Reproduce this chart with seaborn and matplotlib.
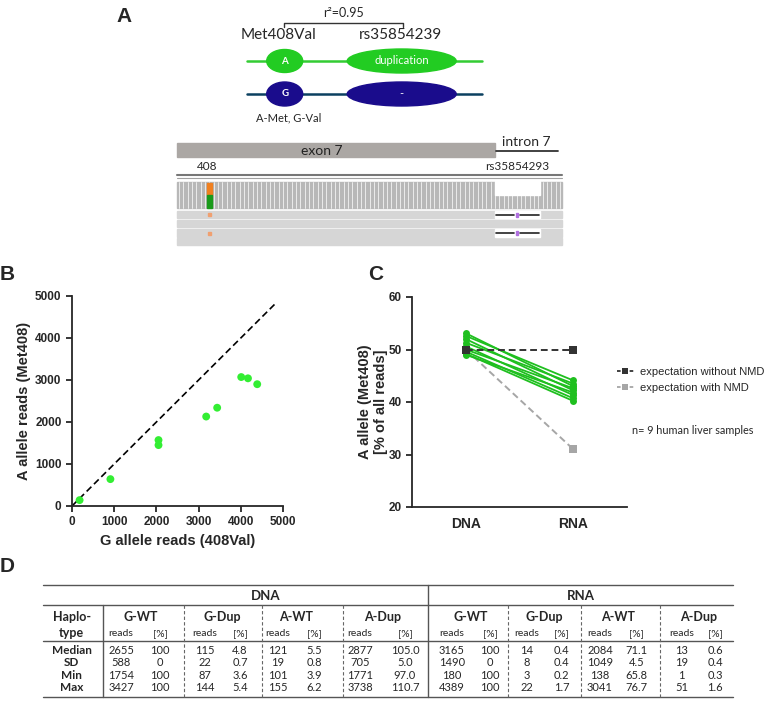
import numpy as np
import pandas as pd
import seaborn as sns
import matplotlib.pyplot as plt
from matplotlib.patches import Ellipse, Rectangle
from matplotlib.lines import Line2D

# --- panel B: reads per allele in the 9 liver samples
g_reads = [180, 910, 2050, 2050, 3180, 3440, 4010, 4170, 4389]
a_reads = [140, 640, 1570, 1450, 2130, 2340, 3070, 3040, 2900]
b_ticks = [0, 1000, 2000, 3000, 4000, 5000]
diag_end = 4840

# --- panel C: A allele share, DNA vs RNA
samples = list(range(1, 10))
conditions = ['DNA', 'RNA']
dna_pct = [53.1, 52.6, 52.0, 51.3, 50.6, 50.0, 49.6, 49.2, 49.0]
rna_pct = [43.0, 44.1, 42.2, 43.5, 41.3, 42.6, 40.7, 40.2, 41.8]
exp_without_nmd = [50, 50]
exp_with_nmd = [50, 31]
c_ticks = [20, 30, 40, 50, 60]

# --- panel D: table
stats = ['Median', 'SD', 'Min', 'Max']
haplotypes = ['G-WT', 'G-Dup', 'A-WT', 'A-Dup']
dna_reads = [[2655, 588, 1754, 3427], [115, 22, 87, 144],
             [121, 19, 101, 155], [2877, 705, 1771, 3738]]
dna_pct_tab = [[100, 0, 100, 100], [4.8, 0.7, 3.6, 5.4],
               [5.5, 0.8, 3.9, 6.2], [105.0, 5.0, 97.0, 110.7]]
rna_reads = [[3165, 1490, 180, 4389], [14, 8, 3, 22],
             [2084, 1049, 138, 3041], [13, 19, 1, 51]]
rna_pct_tab = [[100, 0, 100, 100], [0.4, 0.4, 0.2, 1.7],
               [71.1, 4.5, 65.8, 76.7], [0.6, 0.4, 0.3, 1.6]]

sns.set_style('ticks')
plt.rcParams['font.family'] = ['Liberation Sans', 'DejaVu Sans']
CAL = ['Lato', 'DejaVu Sans']

W, H = 768, 711
fig = plt.figure(figsize=(W / 100, H / 100), dpi=100)


def rect(l, t, r, b):
    return [l / W, 1 - b / H, (r - l) / W, (b - t) / H]


# overlay in pixel units for the schematic, letters and the table
ov = fig.add_axes([0, 0, 1, 1])
ov.set_xlim(0, W)
ov.set_ylim(H, 0)
ov.axis('off')

for letter, x, y in [('A', 124, 16), ('B', 7, 274), ('C', 376, 274), ('D', 7, 567)]:
    ov.text(x, y, letter, fontsize=15, fontweight='bold', ha='center', va='center')

# ---------------- panel A schematic
ov.text(344, 13, 'r²=0.95', family=CAL, fontsize=9, ha='center', va='center')
ov.plot([284, 284, 403, 403], [27, 22.5, 22.5, 27], color='#333333', lw=1)
ov.text(278, 35, 'Met408Val', family=CAL, fontsize=11, ha='center', va='center')
ov.text(400, 35, 'rs35854239', family=CAL, fontsize=11, ha='center', va='center')

ov.plot([247, 482], [61, 61], color='#33cc33', lw=1.8, zorder=1)
ov.add_patch(Ellipse((284.7, 61), 36, 23, color='#22cc22', zorder=2))
ov.add_patch(Ellipse((401.7, 61), 109, 24, color='#22cc22', zorder=2))
ov.text(284.7, 61, 'A', family=CAL, color='white', fontsize=7, fontweight='bold', ha='center', va='center')
ov.text(401.7, 61, 'duplication', family=CAL, color='white', fontsize=8, ha='center', va='center')

ov.plot([247, 482], [94, 94], color='#0b4060', lw=1.8, zorder=1)
ov.add_patch(Ellipse((284.7, 94), 36, 24, color='#1a0c8c', zorder=2))
ov.add_patch(Ellipse((401.7, 94), 109, 24, color='#1a0c8c', zorder=2))
ov.text(284.7, 94, 'G', family=CAL, color='white', fontsize=7, fontweight='bold', ha='center', va='center')
ov.text(401.7, 94, '-', family=CAL, color='white', fontsize=8, ha='center', va='center')
ov.text(289, 118, 'A-Met, G-Val', family=CAL, fontsize=8, ha='center', va='center')

ov.add_patch(Rectangle((177, 143.3), 318, 13.4, color='#aba7a4'))
ov.text(321.7, 151, 'exon 7', family=CAL, fontsize=10, color='#222222', ha='center', va='center')
ov.text(526, 141.5, 'intron 7', family=CAL, fontsize=10, ha='center', va='center')
ov.plot([496, 558], [150.7, 150.7], color='#333333', lw=1.3)
ov.text(207, 166.7, '408', family=CAL, fontsize=8.5, ha='center', va='center')
ov.text(516.7, 166.7, 'rs35854293', family=CAL, fontsize=8.5, ha='center', va='center')
ov.plot([177, 562], [175, 175], color='#777777', lw=1.5)
ov.plot([177, 562], [177.8, 177.8], color='#a0a0a0', lw=0.8)

ov.add_patch(Rectangle((177, 181.7), 385, 26.6, color='#b8b8b8'))
for xs in np.arange(179, 562, 4.33):
    ov.plot([xs, xs], [181.7, 208.3], color='white', lw=0.5)
ov.add_patch(Rectangle((495, 181.2), 45, 13.8, color='white', zorder=3))
ov.add_patch(Rectangle((206.7, 182.7), 5, 12.3, color='#f08020', zorder=3))
ov.add_patch(Rectangle((206.7, 195), 5, 13.3, color='#1a9a1a', zorder=3))

read_rows = [(210.7, 218.3), (220, 227.3), (229.3, 236.7), (238, 245)]
for k, (y0, y1) in enumerate(read_rows):
    ov.add_patch(Rectangle((177, y0), 385, y1 - y0, color='#d6d6d6'))
    if k in (0, 2):
        yc = (y0 + y1) / 2
        ov.add_patch(Rectangle((495, y0), 45, y1 - y0, color='white', zorder=3))
        ov.plot([496, 514], [yc, yc], color='#222222', lw=1.2, zorder=4)
        ov.plot([520, 539], [yc, yc], color='#222222', lw=1.2, zorder=4)
        ov.add_patch(Rectangle((516, yc - 2), 2, 4, color='#b070e0', zorder=4))
        ov.add_patch(Rectangle((207.5, yc - 1.5), 3, 3, color='#f0a070', zorder=4))

# ---------------- panel B
axB = fig.add_axes(rect(72, 296, 283, 506))
axB.plot([0, diag_end], [0, diag_end], color='black', lw=1.2, ls=(0, (4, 2.2)), zorder=2)
sns.scatterplot(x=g_reads, y=a_reads, color='#33ee33', s=32, edgecolor='none',
                ax=axB, zorder=3, clip_on=False)
axB.set_xlim(0, 5000)
axB.set_ylim(0, 5000)
axB.set_xticks(b_ticks)
axB.set_yticks(b_ticks)
axB.set_xlabel('G allele reads (408Val)', fontsize=10.5, fontweight='bold', labelpad=4)
axB.set_ylabel('A allele reads (Met408)', fontsize=10.5, fontweight='bold', labelpad=3)

# ---------------- panel C
axC = fig.add_axes(rect(412, 297, 627, 507))
df = pd.DataFrame({'sample': samples * 2,
                   'cond': [0] * len(samples) + [1] * len(samples),
                   'pct': dna_pct + rna_pct})
sns.lineplot(x=[0, 1], y=exp_with_nmd, color='#a6a6a6', marker='s', markersize=6,
             markeredgewidth=0, lw=1.4, ls=(0, (3.5, 2)), ax=axC, zorder=2)
sns.lineplot(data=df, x='cond', y='pct', units='sample', estimator=None,
             color='#1fbf1f', marker='o', markersize=5, markeredgewidth=0,
             lw=1.3, ax=axC, legend=False, zorder=3)
sns.lineplot(x=[0, 1], y=exp_without_nmd, color='#333333', marker='s', markersize=6,
             markeredgewidth=0, lw=1.4, ls=(0, (3.5, 2)), ax=axC, zorder=4)
axC.set_xlim(-0.5, 1.5)
axC.set_ylim(20, 60)
axC.set_yticks(c_ticks)
axC.set_xticks([0, 1])
axC.set_xticklabels(conditions)
axC.set_xlabel('')
axC.set_ylabel('A allele (Met408)\n[% of all reads]', fontsize=10.5,
               fontweight='bold', labelpad=0, linespacing=1.2)

for ax in (axB, axC):
    sns.despine(ax=ax)
    for side in ('left', 'bottom'):
        ax.spines[side].set_linewidth(1.3)
    ax.tick_params(direction='out', width=1.3, length=4, labelsize=8.5)
    for lab in ax.get_xticklabels() + ax.get_yticklabels():
        lab.set_fontweight('bold')
axC.tick_params(axis='x', length=0, pad=7, labelsize=10)

handles = [Line2D([0], [0], color='#333333', ls=(0, (2, 1.5)), marker='s', markersize=4.5, mew=0, lw=1.3),
           Line2D([0], [0], color='#a6a6a6', ls=(0, (2, 1.5)), marker='s', markersize=4.5, mew=0, lw=1.3)]
fig.legend(handles, ['expectation without NMD', 'expectation with NMD'],
           loc='upper left', bbox_to_anchor=(617 / W, 1 - 367 / H), frameon=False,
           fontsize=8, handlelength=1.5, handletextpad=0.6, labelspacing=0.55,
           borderpad=0, borderaxespad=0)
ov.text(632, 430.5, 'n= 9 human liver samples', family=CAL, fontsize=7.8, ha='left', va='center')

# ---------------- panel D table
rule_c = '#555555'
for y in (585, 605, 641, 697):
    ov.plot([43, 733], [y, y], color=rule_c, lw=1.0)
ov.plot([102.7, 102.7], [605, 697], color=rule_c, lw=1.0)
ov.plot([428.3, 428.3], [585, 697], color=rule_c, lw=1.0)
for xd in (184, 261.7, 343.3, 508.3, 580.7, 660):
    ov.plot([xd, xd], [605, 697], color='#666666', lw=0.8, ls=(0, (3, 2)))

ov.text(265.5, 596, 'DNA', family=CAL, fontsize=9.5, fontweight='bold', ha='center', va='center')
ov.text(580.7, 596, 'RNA', family=CAL, fontsize=9.5, fontweight='bold', ha='center', va='center')
ov.text(71.7, 616.7, 'Haplo-', family=CAL, fontsize=9, fontweight='bold', ha='center', va='center')
ov.text(71.7, 633.3, 'type', family=CAL, fontsize=9, fontweight='bold', ha='center', va='center')

row_y = [650.7, 662.7, 675.3, 687.3]
for i, st in enumerate(stats):
    ov.text(71.7, row_y[i], st, family=CAL, fontsize=8.5, fontweight='bold', ha='center', va='center')

blocks = [([121, 205, 278, 360], [160, 240, 314, 405], dna_reads, dna_pct_tab),
          ([451.7, 526.7, 600, 681.7], [490, 561.7, 636.7, 715], rna_reads, rna_pct_tab)]
for reads_x, pct_x, reads, pcts in blocks:
    for j, hap in enumerate(haplotypes):
        ov.text((reads_x[j] + pct_x[j]) / 2, 616.7, hap, family=CAL, fontsize=9,
                fontweight='bold', ha='center', va='center')
        ov.text(reads_x[j], 633.3, 'reads', family=CAL, fontsize=7.5, ha='center', va='center')
        ov.text(pct_x[j], 633.3, '[%]', family=CAL, fontsize=7.5, ha='center', va='center')
        for i in range(len(stats)):
            ov.text(reads_x[j], row_y[i], str(reads[j][i]), family=CAL, fontsize=8,
                    ha='center', va='center')
            p = pcts[j][i]
            txt = f'{p:.0f}' if hap == 'G-WT' else f'{p:.1f}'
            ov.text(pct_x[j], row_y[i], txt, family=CAL, fontsize=8, ha='center', va='center')

fig.savefig('out.png', dpi=100)
